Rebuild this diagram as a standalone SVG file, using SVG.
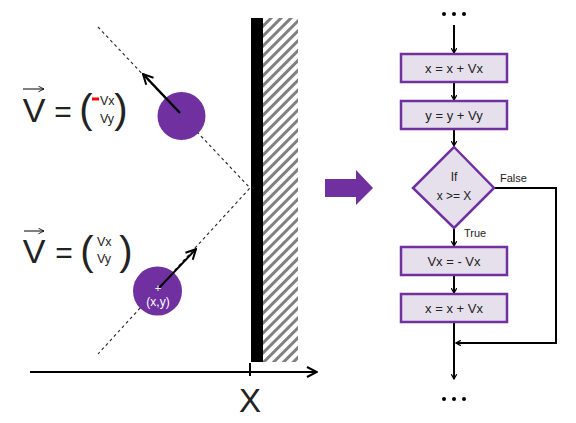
<svg xmlns="http://www.w3.org/2000/svg" width="576" height="423" viewBox="0 0 576 423">
<style>
.t{font-family:"Liberation Sans",Arial,sans-serif;fill:#222}
.box{fill:#e6e0ec;stroke:#7030a0;stroke-width:2.5}
.fl{stroke:#000;stroke-width:2;fill:none}
.dash{stroke:#222;stroke-width:1.1;stroke-dasharray:3 3;fill:none}
.ball{fill:#7030a0}
.dot{fill:#000}
</style>
<defs>
<marker id="ah" viewBox="0 0 10 10" refX="9" refY="5" markerWidth="6" markerHeight="6" markerUnits="userSpaceOnUse" orient="auto">
<path d="M1,0.5 L9,5 L1,9.5" fill="none" stroke="#000" stroke-width="2"/>
</marker>
<marker id="ahf" viewBox="0 0 12 12" refX="11" refY="6" markerWidth="12" markerHeight="12" markerUnits="userSpaceOnUse" orient="auto">
<path d="M1,1 L11,6 L1,11" fill="none" stroke="#000" stroke-width="2"/>
</marker>
<marker id="ahs" viewBox="0 0 10 10" refX="9" refY="5" markerWidth="7" markerHeight="7" markerUnits="userSpaceOnUse" orient="auto">
<path d="M1,1 L9,5 L1,9" fill="none" stroke="#000" stroke-width="1.2"/>
</marker>
<pattern id="hatch" patternUnits="userSpaceOnUse" width="7" height="7" patternTransform="rotate(45)">
<rect x="0" y="0" width="3" height="7" fill="#808080"/>
</pattern>
</defs>

<g id="scene">
<rect x="263" y="18" width="35" height="344" fill="url(#hatch)"/>
<rect x="251" y="18" width="12" height="344" fill="#000"/>
<line x1="30" y1="372" x2="317" y2="372" stroke="#000" stroke-width="2" marker-end="url(#ahf)"/>
<line x1="250" y1="363" x2="250" y2="376" stroke="#000" stroke-width="2"/>
<text class="t" x="250" y="412" font-size="33" text-anchor="middle" fill="#000">X</text>
<polyline class="dash" points="98,27 250,188 98,354"/>
</g>

<g id="ball1">
<circle class="ball" cx="181.5" cy="116" r="24"/>
<line x1="180" y1="113" x2="143" y2="74" stroke="#000" stroke-width="2.5" marker-end="url(#ahf)"/>
</g>

<g id="ball2">
<circle class="ball" cx="157.5" cy="291" r="24.5"/>
<line x1="158" y1="289" x2="196" y2="249" stroke="#000" stroke-width="2" marker-end="url(#ahf)"/>
<text x="158" y="292" font-family="Liberation Sans,Arial,sans-serif" font-size="11" fill="#fff" text-anchor="middle">+</text>
<text x="158" y="306" font-family="Liberation Sans,Arial,sans-serif" font-size="12" fill="#fff" text-anchor="middle">(x,y)</text>
</g>

<g id="eq1">
<line x1="23" y1="89" x2="44" y2="89" stroke="#000" stroke-width="1" marker-end="url(#ahs)"/>
<text class="t" x="34" y="122" font-size="34" text-anchor="middle" fill="#000">V</text>
<text class="t" x="63" y="122" font-size="30" text-anchor="middle" fill="#000">=</text>
<text class="t" x="86" y="123" font-size="40" text-anchor="middle" fill="#000">(</text>
<text class="t" x="121" y="123" font-size="40" text-anchor="middle" fill="#000">)</text>
<rect x="92" y="97.5" width="7" height="3" fill="#ff0000"/>
<text class="t" x="100" y="105" font-size="12.5">Vx</text>
<text class="t" x="100" y="123" font-size="12.5">Vy</text>
</g>

<g id="eq2">
<line x1="24" y1="231" x2="44" y2="231" stroke="#000" stroke-width="1" marker-end="url(#ahs)"/>
<text class="t" x="34" y="263" font-size="34" text-anchor="middle" fill="#000">V</text>
<text class="t" x="64" y="263" font-size="30" text-anchor="middle" fill="#000">=</text>
<text class="t" x="87" y="265" font-size="40" text-anchor="middle" fill="#000">(</text>
<text class="t" x="126" y="265" font-size="40" text-anchor="middle" fill="#000">)</text>
<text class="t" x="97" y="246" font-size="12.5">Vx</text>
<text class="t" x="97" y="263" font-size="12.5">Vy</text>
</g>

<g id="bigarrow">
<path d="M325,179 H356 V170 L373,188 L356,205 V197 H325 Z" fill="#7030a0"/>
</g>

<g id="connectors">
<line class="fl" x1="454" y1="25" x2="454" y2="53" marker-end="url(#ah)"/>
<line class="fl" x1="454" y1="82" x2="454" y2="100" marker-end="url(#ah)"/>
<line class="fl" x1="454" y1="129" x2="454" y2="146" marker-end="url(#ah)"/>
<line class="fl" x1="454" y1="228" x2="454" y2="246" marker-end="url(#ah)"/>
<line class="fl" x1="454" y1="275" x2="454" y2="293" marker-end="url(#ah)"/>
<line class="fl" x1="454" y1="322" x2="454" y2="379" marker-end="url(#ah)"/>
<polyline class="fl" points="494,188 556,188 556,343 456,343" marker-end="url(#ah)"/>
<text class="t" x="500" y="182" font-size="11">False</text>
<text class="t" x="464" y="237" font-size="11">True</text>
</g>

<g id="dots-top">
<circle class="dot" cx="444" cy="14" r="2"/><circle class="dot" cx="454" cy="14" r="2"/><circle class="dot" cx="464" cy="14" r="2"/>
</g>
<g id="n1">
<rect class="box" x="401" y="54" width="106" height="28"/>
<text class="t" x="454" y="72.5" font-size="13" text-anchor="middle">x = x + Vx</text>
</g>
<g id="n2">
<rect class="box" x="401" y="101" width="106" height="28"/>
<text class="t" x="454" y="119.5" font-size="13" text-anchor="middle">y = y + Vy</text>
</g>
<g id="n3">
<polygon class="box" points="454,147 494,188 454,228 413,188"/>
<text class="t" x="454" y="181" font-size="12" text-anchor="middle">If</text>
<text class="t" x="454" y="200" font-size="12" text-anchor="middle">x &gt;= X</text>
</g>
<g id="n4">
<rect class="box" x="401" y="247" width="106" height="28"/>
<text class="t" x="454" y="265.5" font-size="13" text-anchor="middle">Vx = - Vx</text>
</g>
<g id="n5">
<rect class="box" x="401" y="294" width="106" height="28"/>
<text class="t" x="454" y="312.5" font-size="13" text-anchor="middle">x = x + Vx</text>
</g>
<g id="dots-bottom">
<circle class="dot" cx="444" cy="399" r="2"/><circle class="dot" cx="454" cy="399" r="2"/><circle class="dot" cx="464" cy="399" r="2"/>
</g>
</svg>
